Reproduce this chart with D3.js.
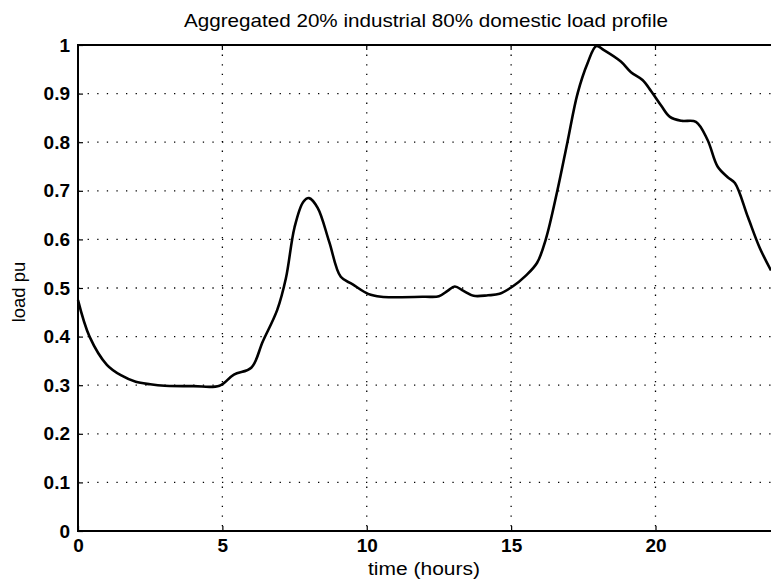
<!DOCTYPE html>
<html>
<head>
<meta charset="utf-8">
<script src="https://cdn.jsdelivr.net/npm/d3@7"></script>
<style>
  html, body { margin: 0; padding: 0; background: #fff; }
  svg { display: block; }
  text { font-family: "Liberation Sans", Arial, Helvetica, sans-serif; fill: #000; }
</style>
</head>
<body>
<svg id="chart" width="771" height="581"></svg>
<script>
// ---- data ----
const hours = [0, 0.4, 1, 1.5, 2, 2.5, 3, 4, 4.9, 5.4, 6, 6.4, 6.9, 7.2, 7.5, 7.8, 8, 8.3, 8.7, 9.1, 9.5, 10.05, 10.5, 11, 12, 12.5, 12.8, 13.05, 13.35, 13.7, 14.2, 14.6, 15.05, 15.5, 15.9, 16.2, 16.6, 16.95, 17.3, 17.65, 17.95, 18.2, 18.8, 19.15, 19.55, 19.85, 20.2, 20.5, 20.9, 21.4, 21.8, 22.15, 22.5, 22.75, 23.2, 23.6, 24];
const load  = [0.475, 0.40, 0.342, 0.32, 0.307, 0.302, 0.299, 0.298, 0.299, 0.322, 0.336, 0.39, 0.455, 0.52, 0.625, 0.677, 0.685, 0.665, 0.595, 0.523, 0.508, 0.488, 0.482, 0.481, 0.482, 0.483, 0.494, 0.503, 0.494, 0.484, 0.485, 0.488, 0.503, 0.525, 0.552, 0.60, 0.70, 0.80, 0.90, 0.963, 0.998, 0.99, 0.966, 0.944, 0.928, 0.905, 0.875, 0.852, 0.844, 0.842, 0.805, 0.75, 0.728, 0.716, 0.646, 0.584, 0.536];
const xTicks = [0, 5, 10, 15, 20];
const yTicks = [0, 0.1, 0.2, 0.3, 0.4, 0.5, 0.6, 0.7, 0.8, 0.9, 1];
const titleText = "Aggregated 20% industrial 80% domestic load profile";
const xLabel = "time (hours)";
const yLabel = "load pu";

// ---- layout ----
const L = 78, R = 771, T = 45, B = 531;
const svg = d3.select("#chart");
const x = d3.scaleLinear().domain([0, 24]).range([L, R]);
const y = d3.scaleLinear().domain([0, 1]).range([B, T]);

// grid
const grid = svg.append("g").attr("stroke", "#000").attr("stroke-width", 1.3)
  .attr("stroke-dasharray", "1.3,8.3").attr("fill", "none");
grid.selectAll(".gx").data(xTicks.filter(d => d > 0)).join("line")
  .attr("x1", d => x(d)).attr("x2", d => x(d)).attr("y1", T).attr("y2", B);
grid.selectAll(".gy").data(yTicks.filter(d => d > 0 && d < 1)).join("line")
  .attr("x1", L).attr("x2", R).attr("y1", d => y(d)).attr("y2", d => y(d));

// axes
const xAxis = d3.axisBottom(x).tickValues(xTicks).tickSize(-5).tickPadding(8).tickFormat(d3.format("d"));
const yAxis = d3.axisLeft(y).tickValues(yTicks).tickSize(-5).tickPadding(8).tickFormat(d => d === 0 || d === 1 ? String(d) : d3.format(".1f")(d));

const gx = svg.append("g").attr("transform", `translate(0,${B})`).call(xAxis);
const gy = svg.append("g").attr("transform", `translate(${L},0)`).call(yAxis);
[gx, gy].forEach(g => {
  g.select(".domain").remove();
  g.selectAll(".tick line").attr("stroke", "#000").attr("stroke-width", 1.2);
  g.selectAll(".tick text").attr("font-size", 19).attr("font-weight", "bold")
    .attr("font-family", '"Liberation Sans", Arial, sans-serif').attr("fill", "#000");
});
gx.selectAll(".tick text").attr("dy", "0.71em");

// top-axis ticks
svg.append("g").selectAll("line").data(xTicks.filter(d => d > 0)).join("line")
  .attr("x1", d => x(d)).attr("x2", d => x(d)).attr("y1", T).attr("y2", T + 5)
  .attr("stroke", "#000").attr("stroke-width", 1.2);

// frame
svg.append("path")
  .attr("d", `M${R},${T}H${L}V${B}H${R}`)
  .attr("fill", "none").attr("stroke", "#000").attr("stroke-width", 2);

// line
const pts = hours.map((h, i) => [h, load[i]]);
const line = d3.line().x(d => x(d[0])).y(d => y(d[1])).curve(d3.curveCatmullRom.alpha(0.5));
svg.append("path").datum(pts).attr("d", line)
  .attr("fill", "none").attr("stroke", "#000").attr("stroke-width", 2.6)
  .attr("stroke-linejoin", "round");

// title & labels
svg.append("text").attr("x", 426).attr("y", 27).attr("text-anchor", "middle")
  .attr("font-size", 18.5).attr("textLength", 484).attr("lengthAdjust", "spacingAndGlyphs")
  .text(titleText);
svg.append("text").attr("x", 424).attr("y", 575).attr("text-anchor", "middle")
  .attr("font-size", 17.5).attr("textLength", 112).attr("lengthAdjust", "spacingAndGlyphs")
  .text(xLabel);
svg.append("text").attr("transform", "translate(25,292) rotate(-90)").attr("text-anchor", "middle")
  .attr("font-size", 18.5).text(yLabel);
</script>
</body>
</html>
